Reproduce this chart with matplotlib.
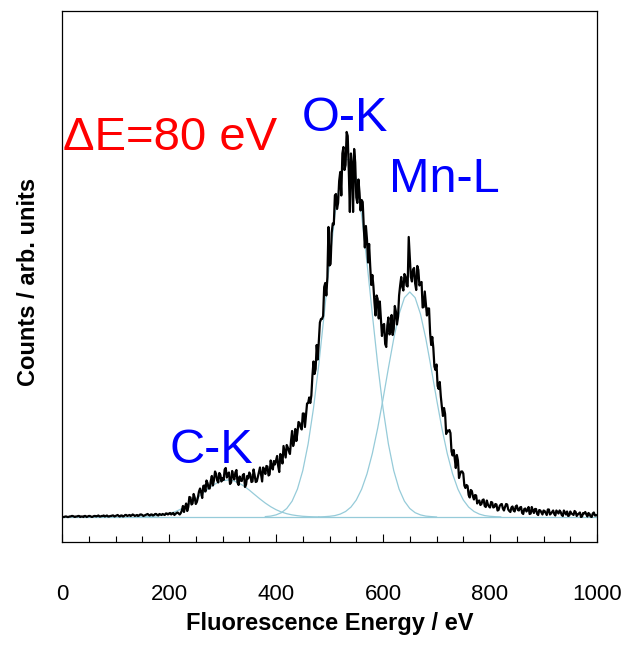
import numpy as np
from matplotlib import pyplot as plt
from matplotlib.ticker import MultipleLocator

plt.rcParams['font.family'] = ['Liberation Sans', 'DejaVu Sans']

# measured spectrum in 2 eV channels (arb. units)
# even channels: 0, 4, 8 ... 1000 eV
counts_even = [
    0, 0, 0.5, 0, 0.5, 1, 0, 0.5, 1, 0.5, 0, 1, 0.5, 1, 0, 1, 0.5, 1.5, 0.5, 1, 0.5, 1.5, 0.5, 1, 1.5,
    1, 2, 0.5, 1.5, 1, 2, 1.5, 1, 2.5, 1, 2, 1.5, 2.5, 1, 2, 3, 1.5, 2.5, 2, 3, 1.5, 2.5, 3, 2, 3.5,
    3.5, 2.5, 4, 3, 4.5, 2.5, 6.5, 5, 13.5, 10, 19.5, 13.5, 19.5, 15, 25.5, 24.5, 31, 25.5, 34, 28.5, 41, 37, 43, 34.5, 42,
    39, 47.5, 39.5, 44.5, 34.5, 41, 44.5, 34.5, 40.5, 36, 43, 32.5, 38.5, 42.5, 35.5, 42, 35.5, 45, 42.5, 49.5, 43, 50.5, 42.5, 51, 56,
    56.5, 51, 63, 53.5, 65.5, 72, 66, 76, 71, 88, 84.5, 94, 87.5, 103.5, 101.5, 114, 114, 141, 143, 172, 177, 198, 201, 234, 240,
    251.5, 284, 292.5, 323, 314, 345, 363.5, 347, 385, 346, 363.5, 305, 354.5, 314, 324.5, 317, 290, 291, 254.5, 251, 242, 214.5, 221.5, 198.5, 198,
    192, 173, 191.5, 182.5, 202, 188, 205.5, 200, 231.5, 230, 243, 231.5, 280, 240, 247.5, 233.5, 251, 231.5, 235, 210, 213, 208.5, 184, 180, 150.5,
    152.5, 128, 120.5, 101, 103, 86.5, 87, 65.5, 67, 49, 56.5, 43, 45.5, 31.5, 32, 22, 27, 20.5, 22, 13.5, 16.5, 13, 17.5, 10, 12.5,
    9.5, 14.5, 10, 12.5, 7, 12.5, 8.5, 10, 12.5, 6, 9.5, 6.5, 10.5, 7, 9.5, 4, 8, 5.5, 10, 3.5, 6.5, 8, 3, 7, 4.5,
    6.5, 4, 7.5, 2.5, 5, 3, 6.5, 3.5, 5, 1, 4.5, 5.5, 1.5, 3.5, 2, 5, 2.5, 4.5, 0.5, 3.5, 2.5, 4, 0.5, 3.5, 1.5,
    2,
]
# odd channels: 2, 6, 10 ... 998 eV
counts_odd = [
    0, 0.5, 0, 0.5, 1, 0.5, 0.5, 1, 0, 0.5, 1, 0, 1, 0.5, 0.5, 1, 1, 0.5, 1, 1.5, 1, 0.5, 1, 1.5, 0.5,
    1.5, 1, 1.5, 0.5, 2, 1, 2, 1.5, 2, 1.5, 1, 2.5, 2, 1.5, 2.5, 2, 2.5, 1.5, 3, 2, 3, 2, 2.5, 3.5, 2.5,
    4, 3.5, 2, 4, 3.5, 4, 11, 10, 6, 20, 12.5, 23, 13, 19.5, 28.5, 19, 31.5, 36.5, 28.5, 36, 31.5, 45.5, 36.5, 44, 35.5,
    37, 49, 43, 33, 46, 37.5, 47, 32, 36.5, 42, 30, 41, 44.5, 35, 47.5, 35, 40, 49.5, 35.5, 47, 51, 41.5, 56.5, 47.5, 52.5,
    61, 45, 61, 71, 59.5, 69.5, 63, 86, 76, 76, 95, 89.5, 103.5, 90, 113.5, 119.5, 121.5, 155.5, 148, 157.5, 194.5, 198, 230, 221.5, 290,
    253, 293.5, 321.5, 308, 336, 321.5, 370, 352, 381, 305, 352, 368, 319.5, 337.5, 306.5, 315, 269.5, 277.5, 273, 232, 231, 201.5, 218, 215.5, 181,
    193, 170, 199.5, 185, 182, 211, 192.5, 221.5, 240, 226.5, 240.5, 230.5, 259.5, 235.5, 249, 227, 247, 234, 209.5, 225.5, 201.5, 208.5, 172, 169, 147,
    131, 135, 110, 109, 83, 85.5, 84, 61.5, 58.5, 62, 39, 45.5, 43.5, 29, 31, 19.5, 26, 17.5, 21.5, 16, 12, 17, 11, 16.5, 10.5,
    15, 9.5, 13, 6.5, 11, 13, 6.5, 13, 7.5, 5, 10.5, 5.5, 11.5, 6.5, 10, 3, 8.5, 7, 3, 10, 4, 8, 2, 6.5, 2.5,
    6, 2, 7.5, 3.5, 6.5, 1.5, 5, 6.5, 2, 6.5, 2.5, 1, 5.5, 3, 6, 1, 3.5, 0, 4, 5, 0.5, 3, 0, 4.5, 1.5,
]

energy = np.arange(0, 1001, 2)
counts = np.empty(len(energy))
counts[0::2] = counts_even
counts[1::2] = counts_odd

# fitted peak components, 10 eV steps
ck_energy = np.arange(140, 481, 10)
ck_fit = [0.1, 0.2, 0.4, 0.7, 1.3, 2.1, 3.3, 5.0, 7.3, 10.3, 13.9, 18.0, 22.4, 26.9, 30.9, 34.2, 36.3, 37,
          36.3, 34.2, 30.9, 26.9, 22.4, 18.0, 13.9, 10.3, 7.3, 5.0, 3.3, 2.1, 1.3, 0.7, 0.4, 0.2, 0.1]
ok_energy = np.arange(380, 701, 10)
ok_fit = [0.4, 0.9, 2.1, 4.3, 8.5, 15.8, 27.9, 46.4, 73.1, 108.7, 152.7, 202.8, 254.4, 301.5, 337.8, 357.5,
          357.5, 337.8, 301.5, 254.4, 202.8, 152.7, 108.7, 73.1, 46.4, 27.9, 15.8, 8.5, 4.3, 2.1, 0.9, 0.4, 0]
mnl_energy = np.arange(480, 821, 10)
mnl_fit = [0.1, 0.3, 0.7, 1.4, 2.9, 5.5, 9.9, 17.0, 27.8, 43.1, 63.5, 88.8, 118.0, 148.8, 178.3, 202.9, 219.3,
           225, 219.3, 202.9, 178.3, 148.8, 118.0, 88.8, 63.5, 43.1, 27.8, 17.0, 9.9, 5.5, 2.9, 1.4, 0.7, 0.3, 0.1]

peak_labels = ['C-K', 'O-K', 'Mn-L']
label_x = [200, 449, 611]
label_y = [54, 386, 325]

fit_color = '#96cbd9'

fig = plt.figure(figsize=(6.24, 6.45), dpi=100)
ax = fig.add_axes([0.0994, 0.1597, 0.8574, 0.8233])

ax.axhline(0, color=fit_color, lw=0.9, zorder=1)
ax.plot(ck_energy, ck_fit, color=fit_color, lw=0.9, zorder=1)
ax.plot(ok_energy, ok_fit, color=fit_color, lw=0.9, zorder=1)
ax.plot(mnl_energy, mnl_fit, color=fit_color, lw=0.9, zorder=1)
ax.plot(energy, counts, color='black', lw=1.6, zorder=2)

for lab, x, y in zip(peak_labels, label_x, label_y):
    ax.text(x, y, lab, color='#0000ff', fontsize=35, va='baseline', ha='left')
ax.text(1, 367, '\u0394E=80 eV', color='#ff0000', fontsize=34, va='baseline', ha='left')

ax.set_xlim(0, 1000)
ax.set_ylim(-25, 506)
ax.xaxis.set_major_locator(MultipleLocator(200))
ax.xaxis.set_minor_locator(MultipleLocator(50))
ax.set_yticks([])
ax.tick_params(axis='x', which='both', direction='in', width=0.8, labelsize=16, pad=30)
ax.tick_params(axis='x', which='major', length=5.8)
ax.tick_params(axis='x', which='minor', length=4.3)
for s in ax.spines.values():
    s.set_linewidth(0.9)

ax.set_xlabel('Fluorescence Energy / eV', fontsize=17, fontweight='bold', labelpad=5)
ax.set_ylabel('Counts / arb. units', fontsize=17, fontweight='bold')
ax.yaxis.set_label_coords(-0.042, 0.49)

fig.savefig('out.png', dpi=100)
